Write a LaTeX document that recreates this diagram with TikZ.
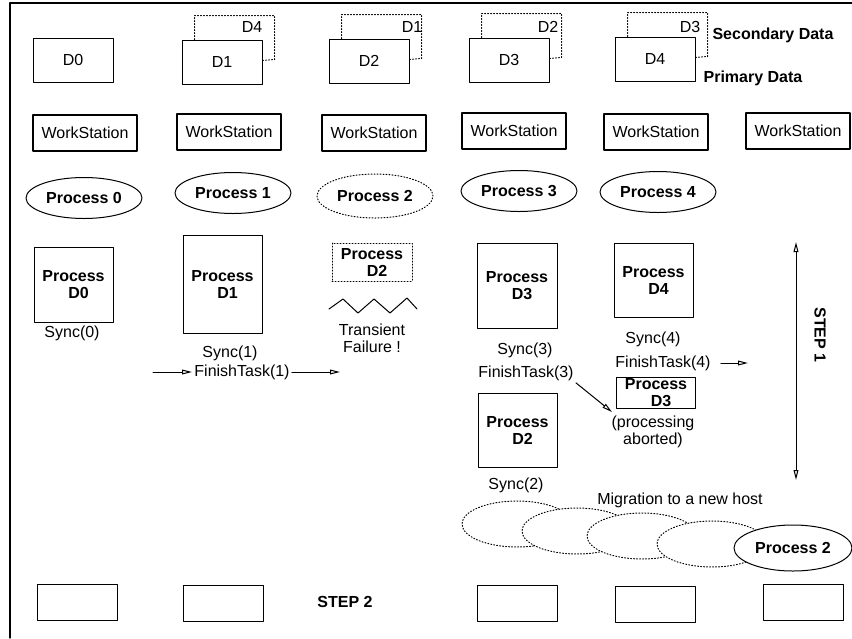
\documentclass[tikz,border=0pt]{standalone}
\usepackage{fontspec}
\setmainfont{Liberation Sans}
\usetikzlibrary{positioning,calc,arrows.meta,shapes.geometric}
\tikzset{>={Triangle[open,length=5pt,width=2.4pt]}}

\begin{document}
\begin{tikzpicture}[x=0.5pt, y=-0.5pt, line cap=round, line join=round,
  every node/.style={font=\fontsize{8}{8.5}\selectfont, inner sep=1pt},
  databox/.style={draw, line width=0.5pt, minimum width=40pt, minimum height=22pt},
  secbox/.style={line width=0.5pt, densely dotted},
  wsbox/.style={draw, line width=1pt, minimum width=52pt, minimum height=18pt},
  proc/.style={draw, ellipse, line width=0.5pt, minimum width=58pt, minimum height=20.5pt,
    font=\fontsize{8}{8.5}\selectfont\bfseries},
  pbox/.style={draw, line width=0.5pt, minimum width=39.5pt, align=center,
    font=\fontsize{8}{8.5}\selectfont\bfseries},
  tag/.style={align=center},
  bold/.style={font=\fontsize{8}{8.5}\selectfont\bfseries},
  ghost/.style={draw, densely dotted, line width=0.5pt, fill=white}]
  \def\pd#1{Process\\\hspace*{5pt}#1}

  \useasboundingbox (0,0) rectangle (852,638);

  % frame
  \draw[line width=0.6pt] (10,638) -- (10,3) -- (852,3);

  % data sets
  \node[databox] (d0) at (73,60) {D0};
  \node[databox] (d1) at (222,62) {D1};
  \node[databox] (d2) at (369,61) {D2};
  \node[databox] (d3) at (509,60) {D3};
  \node[databox] (d4) at (655,59) {D4};

  % secondary copies (behind the primary ones)
  \foreach \d/\s/\lx in {d1/D4/252, d2/D1/412, d3/D2/548, d4/D3/690}{
    \draw[secbox] ($(\d.north west)+(13,0)$) -- ++(0,-24) -- ++(80,0)
      -- ++(0,44) -- ($(\d.south east)+(0,-24)$);
    \node (l\s) at (\lx,27) {\s};
  }

  \node[bold] (secdata) at (773,35) {Secondary Data};
  \node[bold] (primdata) at (753,78) {Primary Data};

  % workstations
  \foreach \n/\x/\y in {0/85/133, 1/229/132, 2/374/133, 3/514/131, 4/656/132, 5/798/131}
    \node[wsbox] (ws\n) at (\x,\y) {WorkStation};

  % processes
  \node[proc] (p0) at (84,198) {Process 0};
  \node[proc] (p1) at (233,193) {Process 1};
  \node[proc, densely dotted, minimum height=22pt] (p2) at (375,196) {Process 2};
  \node[proc] (p3) at (519,191) {Process 3};
  \node[proc] (p4) at (658,192) {Process 4};

  % process data
  \node[pbox, minimum height=37.5pt] (pd0) at (73.5,284.5) {\pd{D0}};
  \node[pbox, minimum height=49pt] (pd1) at (222.5,284) {\pd{D1}};
  \node[pbox, densely dotted, minimum width=40pt, minimum height=19pt] (pd2) at (372,262) {\pd{D2}};
  \node[pbox, minimum width=40pt, minimum height=42.5pt] (pd3) at (517,285.5) {\pd{D3}};
  \node[pbox, minimum height=37pt] (pd4) at (653.5,280) {\pd{D4}};
  \node[pbox, minimum height=37pt] (pd5) at (517.5,430) {\pd{D2}};
  \node[pbox, minimum height=15.5pt, inner sep=0pt] (ab) at (656,393) {\pd{D3}};

  % failure
  \draw[line width=0.5pt] (329,309) -- (343,299) -- (358,313) -- (374,299)
    -- (390,313) -- (407,298) -- (417,309);
  \node[tag] (fail) at (372,338) {Transient\\Failure !};

  % sync and finish labels
  \node (sync0) at (72,333) {Sync(0)};
  \node (sync1) at (230,353) {Sync(1)};
  \node (ft1) at (242,372) {FinishTask(1)};
  \node (sync3) at (525,350) {Sync(3)};
  \node (ft3) at (526,373) {FinishTask(3)};
  \node (sync4) at (653,339) {Sync(4)};
  \node (ft4) at (663,363) {FinishTask(4)};
  \node[tag] (abtxt) at (653,432) {(processing\\aborted)};
  \node (sync2) at (516,485) {Sync(2)};

  \coordinate (a1) at (153,372);
  \coordinate (a2) at (340,372);
  \coordinate (a3) at (612,412);
  \coordinate (a4) at (748,363);
  \draw[->, line width=0.5pt] (a1) -- (ft1);
  \draw[->, line width=0.5pt] (ft1) -- (a2);
  \draw[->, line width=0.5pt] (ft3.south east) -- (a3);
  \draw[->, line width=0.5pt, shorten <=4pt] (ft4) -- (a4);

  % step 1
  \coordinate (s1top) at (796,242);
  \coordinate (s1bot) at (796,480);
  \draw[<->, line width=0.5pt] (s1top) -- (s1bot);
  \node[bold, rotate=-90] (step1) at (820,335) {STEP 1};

  % migration
  \node (migr) at (680,500) {Migration to a new host};
  \draw[ghost] (517,524) ellipse [x radius=27.5pt, y radius=11.5pt];
  \draw[ghost] (577,531) ellipse [x radius=27.5pt, y radius=11.5pt];
  \draw[ghost] (642,536) ellipse [x radius=27.5pt, y radius=11.5pt];
  \draw[ghost] (712,544) ellipse [x radius=27.5pt, y radius=11.5pt];
  \node[proc, fill=white, minimum width=59pt, minimum height=23pt] (p2new) at (793,548) {Process 2};

  % step 2 hosts
  \foreach \n/\x/\y in {0/77/602, 1/223.5/603, 3/517.5/603.5, 4/655.5/604.5, 5/803/602.5}
    \node[databox, minimum height=18pt] (h\n) at (\x,\y) {};
  \node[bold] (step2) at (345,602) {STEP 2};
\end{tikzpicture}
\end{document}
